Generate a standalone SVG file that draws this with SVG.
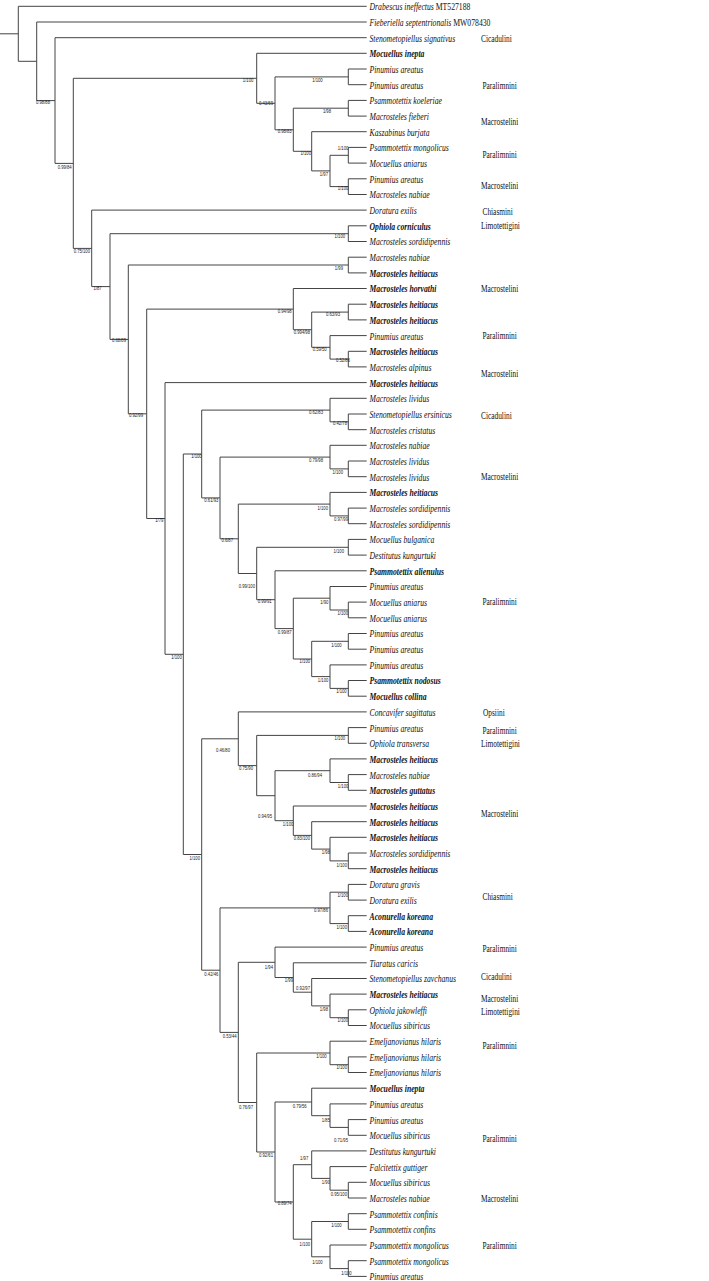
<svg xmlns="http://www.w3.org/2000/svg" width="709" height="1281" viewBox="0 0 709 1281">
<style>
.ln{fill:none;stroke:#444;stroke-width:1}
.sp{font-family:"Liberation Serif","Times New Roman",serif;font-size:11px;font-style:italic;fill:#111}
.b{font-weight:bold}
.up{font-style:normal}
.tr{font-family:"Liberation Serif","Times New Roman",serif;font-size:11px;fill:#111}
.bs{font-family:"Liberation Sans",Arial,sans-serif;font-size:6px;fill:#222;text-anchor:end}
</style>
<rect width="709" height="1281" fill="#fff"/>
<g id="connectors" class="ln">
<path d="M0 33.8H18.3M366.7 6.3H18.3V61.3H36.7M366.7 22H36.7V100.6H55M366.7 37.7H55V163.4H73.3M256.7 78.3H73.3V248.4H91.7
M366.7 53.3H256.7V103.3H275M348.3 76.9H275V129.8H293.3M366.7 69H348.3V84.7H366.7M348.3 108.2H293.3V151.3H311.7M366.7 100.4H348.3V116.1H366.7
M366.7 131.7H311.7V170.9H330M348.3 155.3H330V186.6H348.3M366.7 147.4H348.3V163.1H366.7M366.7 178.8H348.3V194.5H366.7
M366.7 210.1H91.7V286.6H110M348.3 233.7H110V339.4H128.3M366.7 225.8H348.3V241.5H366.7M348.3 265H128.3V413.8H146.7M366.7 257.2H348.3V272.9H366.7
M293.3 309.1H146.7V518.5H165M366.7 288.5H293.3V329.7H311.7M348.3 312.1H311.7V347.3H330M366.7 304.2H348.3V319.9H366.7M366.7 335.6H330V359.1H348.3M366.7 351.3H348.3V366.9H366.7
M366.7 382.6H165V654.3H183.3M201.7 454H183.3V854.5H201.7
M330 410.1H201.7V497.9H220M366.7 398.3H330V421.8H348.3M366.7 414H348.3V429.7H366.7
M330 457.1H220V538.8H238.3M366.7 445.3H330V468.9H348.3M366.7 461H348.3V476.7H366.7
M330 504.1H238.3V573.5H256.7M366.7 492.4H330V515.9H348.3M366.7 508.1H348.3V523.7H366.7
M348.3 547.3H256.7V599.7H275M366.7 539.4H348.3V555.1H366.7M366.7 570.8H275V628.6H293.3M330 598.2H293.3V659H311.7
M366.7 586.5H330V610H348.3M366.7 602.1H348.3V617.8H366.7M348.3 641.3H311.7V676.6H330M366.7 633.5H348.3V649.2H366.7M366.7 664.9H330V688.4H348.3M366.7 680.5H348.3V696.2H366.7
M238.3 738.8H201.7V970.2H220M366.7 711.9H238.3V765.6H256.7M348.3 735.4H256.7V795.7H275M366.7 727.6H348.3V743.3H366.7
M330 770.7H275V820.7H293.3M366.7 758.9H330V782.5H348.3M366.7 774.6H348.3V790.3H366.7
M366.7 806H293.3V835.4H311.7M366.7 821.7H311.7V849.1H330M366.7 837.3H330V860.9H348.3M366.7 853H348.3V868.7H366.7
M330 907.9H220V1032.4H238.3M348.3 892.2H330V923.6H348.3M366.7 884.4H348.3V900.1H366.7M366.7 915.7H348.3V931.4H366.7
M275 962.3H238.3V1102.5H256.7M366.7 947.1H275V977.5H293.3M366.7 962.8H293.3V992.2H311.7M366.7 978.5H311.7V1005.9H330M366.7 994.1H330V1017.7H348.3M366.7 1009.8H348.3V1025.5H366.7
M330 1053H256.7V1152H275M366.7 1041.2H330V1064.7H348.3M366.7 1056.9H348.3V1072.5H366.7
M311.7 1102H275V1202H293.3M366.7 1088.2H311.7V1115.7H330M366.7 1103.9H330V1127.4H348.3M366.7 1119.6H348.3V1135.3H366.7
M311.7 1164.7H293.3V1239.2H311.7M366.7 1150.9H311.7V1178.4H330M366.7 1166.6H330V1190.2H348.3M366.7 1182.3H348.3V1198H366.7
M348.3 1221.5H311.7V1256.8H330M366.7 1213.7H348.3V1229.3H366.7M366.7 1245H330V1268.6H348.3M366.7 1260.7H348.3V1276.4H366.7"/>
</g>
<g id="taxa" class="sp" transform="scale(0.7,1)">
<g id="t1"><text x="527.9" y="10.3">Drabescus ineffectus<tspan class="up"> MT527188</tspan></text></g>
<g id="t2"><text x="527.9" y="26">Fieberiella septentrionalis<tspan class="up"> MW078430</tspan></text></g>
<g id="t3"><text x="527.9" y="41.7">Stenometopiellus signativus</text></g>
<g id="t4"><text x="527.9" y="57.3" class="b">Mocuellus inepta</text></g>
<g id="t5"><text x="527.9" y="73">Pinumius areatus</text></g>
<g id="t6"><text x="527.9" y="88.7">Pinumius areatus</text></g>
<g id="t7"><text x="527.9" y="104.4">Psammotettix koeleriae</text></g>
<g id="t8"><text x="527.9" y="120.1">Macrosteles fieberi</text></g>
<g id="t9"><text x="527.9" y="135.7">Kaszabinus burjata</text></g>
<g id="t10"><text x="527.9" y="151.4">Psammotettix mongolicus</text></g>
<g id="t11"><text x="527.9" y="167.1">Mocuellus aniarus</text></g>
<g id="t12"><text x="527.9" y="182.8">Pinumius areatus</text></g>
<g id="t13"><text x="527.9" y="198.5">Macrosteles nabiae</text></g>
<g id="t14"><text x="527.9" y="214.1">Doratura exilis</text></g>
<g id="t15"><text x="527.9" y="229.8" class="b">Ophiola corniculus</text></g>
<g id="t16"><text x="527.9" y="245.5">Macrosteles sordidipennis</text></g>
<g id="t17"><text x="527.9" y="261.2">Macrosteles nabiae</text></g>
<g id="t18"><text x="527.9" y="276.9" class="b">Macrosteles heitiacus</text></g>
<g id="t19"><text x="527.9" y="292.5" class="b">Macrosteles horvathi</text></g>
<g id="t20"><text x="527.9" y="308.2" class="b">Macrosteles heitiacus</text></g>
<g id="t21"><text x="527.9" y="323.9" class="b">Macrosteles heitiacus</text></g>
<g id="t22"><text x="527.9" y="339.6">Pinumius areatus</text></g>
<g id="t23"><text x="527.9" y="355.3" class="b">Macrosteles heitiacus</text></g>
<g id="t24"><text x="527.9" y="370.9">Macrosteles alpinus</text></g>
<g id="t25"><text x="527.9" y="386.6" class="b">Macrosteles heitiacus</text></g>
<g id="t26"><text x="527.9" y="402.3">Macrosteles lividus</text></g>
<g id="t27"><text x="527.9" y="418">Stenometopiellus ersinicus</text></g>
<g id="t28"><text x="527.9" y="433.7">Macrosteles cristatus</text></g>
<g id="t29"><text x="527.9" y="449.3">Macrosteles nabiae</text></g>
<g id="t30"><text x="527.9" y="465">Macrosteles lividus</text></g>
<g id="t31"><text x="527.9" y="480.7">Macrosteles lividus</text></g>
<g id="t32"><text x="527.9" y="496.4" class="b">Macrosteles heitiacus</text></g>
<g id="t33"><text x="527.9" y="512.1">Macrosteles sordidipennis</text></g>
<g id="t34"><text x="527.9" y="527.7">Macrosteles sordidipennis</text></g>
<g id="t35"><text x="527.9" y="543.4">Mocuellus bulganica</text></g>
<g id="t36"><text x="527.9" y="559.1">Destitutus kungurtuki</text></g>
<g id="t37"><text x="527.9" y="574.8" class="b">Psammotettix alienulus</text></g>
<g id="t38"><text x="527.9" y="590.5">Pinumius areatus</text></g>
<g id="t39"><text x="527.9" y="606.1">Mocuellus aniarus</text></g>
<g id="t40"><text x="527.9" y="621.8">Mocuellus aniarus</text></g>
<g id="t41"><text x="527.9" y="637.5">Pinumius areatus</text></g>
<g id="t42"><text x="527.9" y="653.2">Pinumius areatus</text></g>
<g id="t43"><text x="527.9" y="668.9">Pinumius areatus</text></g>
<g id="t44"><text x="527.9" y="684.5" class="b">Psammotettix nodosus</text></g>
<g id="t45"><text x="527.9" y="700.2" class="b">Mocuellus collina</text></g>
<g id="t46"><text x="527.9" y="715.9">Concavifer sagittatus</text></g>
<g id="t47"><text x="527.9" y="731.6">Pinumius areatus</text></g>
<g id="t48"><text x="527.9" y="747.3">Ophiola transversa</text></g>
<g id="t49"><text x="527.9" y="762.9" class="b">Macrosteles heitiacus</text></g>
<g id="t50"><text x="527.9" y="778.6">Macrosteles nabiae</text></g>
<g id="t51"><text x="527.9" y="794.3" class="b">Macrosteles guttatus</text></g>
<g id="t52"><text x="527.9" y="810" class="b">Macrosteles heitiacus</text></g>
<g id="t53"><text x="527.9" y="825.7" class="b">Macrosteles heitiacus</text></g>
<g id="t54"><text x="527.9" y="841.3" class="b">Macrosteles heitiacus</text></g>
<g id="t55"><text x="527.9" y="857">Macrosteles sordidipennis</text></g>
<g id="t56"><text x="527.9" y="872.7" class="b">Macrosteles heitiacus</text></g>
<g id="t57"><text x="527.9" y="888.4">Doratura gravis</text></g>
<g id="t58"><text x="527.9" y="904.1">Doratura exilis</text></g>
<g id="t59"><text x="527.9" y="919.7" class="b">Aconurella koreana</text></g>
<g id="t60"><text x="527.9" y="935.4" class="b">Aconurella koreana</text></g>
<g id="t61"><text x="527.9" y="951.1">Pinumius areatus</text></g>
<g id="t62"><text x="527.9" y="966.8">Tiaratus caricis</text></g>
<g id="t63"><text x="527.9" y="982.5">Stenometopiellus zavchanus</text></g>
<g id="t64"><text x="527.9" y="998.1" class="b">Macrosteles heitiacus</text></g>
<g id="t65"><text x="527.9" y="1013.8">Ophiola jakowleffi</text></g>
<g id="t66"><text x="527.9" y="1029.5">Mocuellus sibiricus</text></g>
<g id="t67"><text x="527.9" y="1045.2">Emeljanovianus hilaris</text></g>
<g id="t68"><text x="527.9" y="1060.9">Emeljanovianus hilaris</text></g>
<g id="t69"><text x="527.9" y="1076.5">Emeljanovianus hilaris</text></g>
<g id="t70"><text x="527.9" y="1092.2" class="b">Mocuellus inepta</text></g>
<g id="t71"><text x="527.9" y="1107.9">Pinumius areatus</text></g>
<g id="t72"><text x="527.9" y="1123.6">Pinumius areatus</text></g>
<g id="t73"><text x="527.9" y="1139.3">Mocuellus sibiricus</text></g>
<g id="t74"><text x="527.9" y="1154.9">Destitutus kungurtuki</text></g>
<g id="t75"><text x="527.9" y="1170.6">Falcitettix guttiger</text></g>
<g id="t76"><text x="527.9" y="1186.3">Mocuellus sibiricus</text></g>
<g id="t77"><text x="527.9" y="1202">Macrosteles nabiae</text></g>
<g id="t78"><text x="527.9" y="1217.7">Psammotettix confinis</text></g>
<g id="t79"><text x="527.9" y="1233.3">Psammotettix confins</text></g>
<g id="t80"><text x="527.9" y="1249">Psammotettix mongolicus</text></g>
<g id="t81"><text x="527.9" y="1264.7">Psammotettix mongolicus</text></g>
<g id="t82"><text x="527.9" y="1280.4">Pinumius areatus</text></g>
</g>
<g id="tribes" class="tr" transform="scale(0.67,1)">
<text x="717.9" y="42">Cicadulini</text>
<text x="720.1" y="88.7">Paralimnini</text>
<text x="717.9" y="124.7">Macrostelini</text>
<text x="720.1" y="158">Paralimnini</text>
<text x="717.9" y="189.4">Macrostelini</text>
<text x="720.1" y="214.7">Chiasmini</text>
<text x="717.9" y="228.7">Limotettigini</text>
<text x="717.9" y="292">Macrostelini</text>
<text x="720.1" y="338.7">Paralimnini</text>
<text x="717.9" y="377">Macrostelini</text>
<text x="717.9" y="418.7">Cicadulini</text>
<text x="717.9" y="480.4">Macrostelini</text>
<text x="720.1" y="605.4">Paralimnini</text>
<text x="720.9" y="716.4">Opsiini</text>
<text x="720.1" y="733.7">Paralimnini</text>
<text x="717.9" y="747">Limotettigini</text>
<text x="717.9" y="817">Macrostelini</text>
<text x="720.1" y="899.7">Chiasmini</text>
<text x="720.1" y="951.7">Paralimnini</text>
<text x="717.9" y="980.4">Cicadulini</text>
<text x="717.9" y="1001.7">Macrostelini</text>
<text x="717.9" y="1015.4">Limotettigini</text>
<text x="720.1" y="1048.7">Paralimnini</text>
<text x="720.1" y="1141.7">Paralimnini</text>
<text x="717.9" y="1201.7">Macrostelini</text>
<text x="720.1" y="1249.4">Paralimnini</text>
</g>
<g id="support" class="bs" transform="scale(0.7,1)">
<text x="71.4" y="104.5">0.98/88</text>
<text x="102.4" y="169.5">0.99/84</text>
<text x="361.9" y="82">1/100</text>
<text x="461" y="82">1/100</text>
<text x="390" y="105.5">0.43/69</text>
<text x="472.9" y="113">1/98</text>
<text x="416.7" y="133.5">0.98/83</text>
<text x="444.3" y="155.5">1/100</text>
<text x="497.6" y="150">1/100</text>
<text x="468.6" y="176.5">1/97</text>
<text x="497.6" y="190.5">1/100</text>
<text x="128.6" y="253.5">0.75/100</text>
<text x="492.9" y="238">1/100</text>
<text x="145.3" y="290">1/87</text>
<text x="490" y="270">1/99</text>
<text x="416.7" y="313">0.94/98</text>
<text x="485.7" y="316">0.63/93</text>
<text x="442.9" y="334">0.994/98</text>
<text x="180" y="341.7">0.68/89</text>
<text x="466.7" y="350.7">0.59/50</text>
<text x="500" y="362.3">0.52/86</text>
<text x="461.4" y="414">0.62/83</text>
<text x="204.3" y="417">0.92/99</text>
<text x="495.7" y="425">0.42/78</text>
<text x="288.1" y="458">1/100</text>
<text x="461.4" y="462">0.79/98</text>
<text x="490" y="474">1/100</text>
<text x="311.9" y="502">0.61/93</text>
<text x="468.6" y="510">1/100</text>
<text x="497.1" y="520.7">0.97/99</text>
<text x="233.3" y="521.7">1/79</text>
<text x="332.9" y="542">0.6/87</text>
<text x="491.4" y="553">1/100</text>
<text x="364.3" y="588.3">0.99/100</text>
<text x="388.1" y="603.3">0.99/91</text>
<text x="469" y="604">1/90</text>
<text x="497.1" y="615">1/100</text>
<text x="416.7" y="634">0.99/87</text>
<text x="488.1" y="646.7">1/100</text>
<text x="259.6" y="659">1/100</text>
<text x="442.9" y="663">1/100</text>
<text x="469" y="682">1/100</text>
<text x="495.3" y="693">1/100</text>
<text x="492.9" y="740">1/100</text>
<text x="328.6" y="752">0.46/80</text>
<text x="361.4" y="770">0.75/90</text>
<text x="460" y="777">0.86/94</text>
<text x="497.6" y="788">1/100</text>
<text x="388.6" y="818">0.94/95</text>
<text x="419" y="825.7">1/100</text>
<text x="442.9" y="840">0.83/100</text>
<text x="471.4" y="854">1/98</text>
<text x="285.7" y="860">1/100</text>
<text x="495.7" y="866.7">1/100</text>
<text x="497.1" y="896.7">1/100</text>
<text x="468.6" y="911.7">0.97/86</text>
<text x="495.7" y="929.3">1/100</text>
<text x="390" y="969">1/94</text>
<text x="311.9" y="975.7">0.42/46</text>
<text x="418.6" y="982">1/99</text>
<text x="442.9" y="990">0.92/97</text>
<text x="468.6" y="1010.7">1/98</text>
<text x="497.1" y="1022">1/100</text>
<text x="338.1" y="1038">0.53/44</text>
<text x="466.7" y="1058">1/100</text>
<text x="495.7" y="1069.3">1/100</text>
<text x="361.4" y="1109">0.76/97</text>
<text x="438.1" y="1108">0.79/56</text>
<text x="471.4" y="1121.7">1/85</text>
<text x="497.1" y="1141.7">0.71/95</text>
<text x="390" y="1157">0.92/61</text>
<text x="440.4" y="1160">1/97</text>
<text x="471.4" y="1184">1/90</text>
<text x="495.7" y="1196">0.95/100</text>
<text x="416.7" y="1205">0.89/74</text>
<text x="488.1" y="1227">1/100</text>
<text x="442.9" y="1245.7">1/100</text>
<text x="461" y="1264">1/100</text>
<text x="502.4" y="1275">1/100</text>
</g>
</svg>
